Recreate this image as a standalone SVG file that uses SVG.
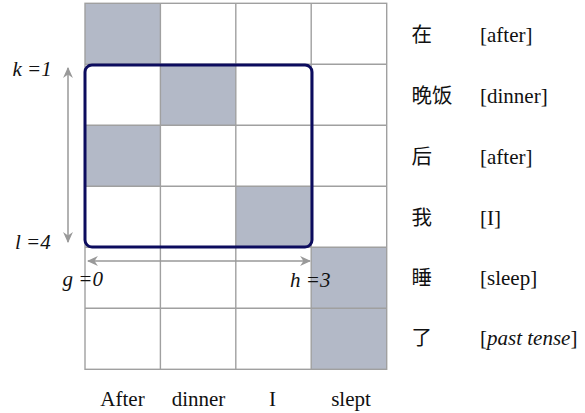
<svg xmlns="http://www.w3.org/2000/svg" width="585" height="413" viewBox="0 0 585 413">
<style>
.grid{stroke:#a0a0a0;stroke-width:1.4;fill:none}
.cell{fill:#b3b9c7}
.arr{stroke:#999;stroke-width:1.5;fill:none}
</style>
<defs>
<marker id="ah" viewBox="0 0 10 10" refX="9" refY="5" markerWidth="11" markerHeight="11" markerUnits="userSpaceOnUse" orient="auto-start-reverse">
<path d="M0,0.5 L10,5 L0,9.5 L3,5 z" fill="#999"/>
</marker>
</defs>
<rect width="585" height="413" fill="#fff"/>
<g id="cells">
<rect class="cell" x="85" y="3.3" width="75.4" height="61"/>
<rect class="cell" x="160.4" y="64.3" width="75.4" height="61"/>
<rect class="cell" x="85" y="125.3" width="75.4" height="61"/>
<rect class="cell" x="235.8" y="186.3" width="75.4" height="61"/>
<rect class="cell" x="311.2" y="247.3" width="75.5" height="61"/>
<rect class="cell" x="311.2" y="308.3" width="75.5" height="61"/>
</g>
<g id="grid" class="grid">
<rect x="85" y="3.3" width="301.7" height="366"/>
<path d="M160.4,3.3V369.3M235.8,3.3V369.3M311.2,3.3V369.3M85,64.3H386.7M85,125.3H386.7M85,186.3H386.7M85,247.3H386.7M85,308.3H386.7"/>
</g>
<g id="span">
<rect x="85" y="65" width="227" height="182" rx="7" fill="none" stroke="#0c0c5e" stroke-width="3"/>
</g>
<g id="connectors">
<line class="arr" x1="68" y1="242" x2="68" y2="68" marker-end="url(#ah)" marker-start="url(#ah)"/>
<line class="arr" x1="88" y1="261" x2="310" y2="261" marker-end="url(#ah)" marker-start="url(#ah)"/>
</g>
<g id="labels" font-family="'Liberation Serif', serif" font-size="21" font-style="italic" fill="#111">
<text x="12.5" y="76">k =1</text>
<text x="15" y="249">l =4</text>
<text x="62.5" y="286">g =0</text>
<text x="290" y="287">h =3</text>
</g>
<g id="source-zh" font-family="'Noto Sans CJK SC', sans-serif" font-size="20.5" fill="#111">
<text x="411.5" y="42">在</text>
<text x="411.5" y="103">晚饭</text>
<text x="411.5" y="164">后</text>
<text x="411.5" y="225">我</text>
<text x="411.5" y="285">睡</text>
<text x="411.5" y="345">了</text>
</g>
<g id="source-gloss" font-family="'Liberation Serif', serif" font-size="21" fill="#111">
<text x="480" y="42">[after]</text>
<text x="480" y="103">[dinner]</text>
<text x="480" y="164">[after]</text>
<text x="480" y="225">[I]</text>
<text x="480" y="285">[sleep]</text>
<text x="480" y="345">[<tspan font-style="italic">past tense</tspan>]</text>
</g>
<g id="target" font-family="'Liberation Serif', serif" font-size="21" fill="#111" text-anchor="middle">
<text x="122.5" y="406">After</text>
<text x="198.5" y="406">dinner</text>
<text x="272.5" y="406">I</text>
<text x="351" y="406">slept</text>
</g>
</svg>
